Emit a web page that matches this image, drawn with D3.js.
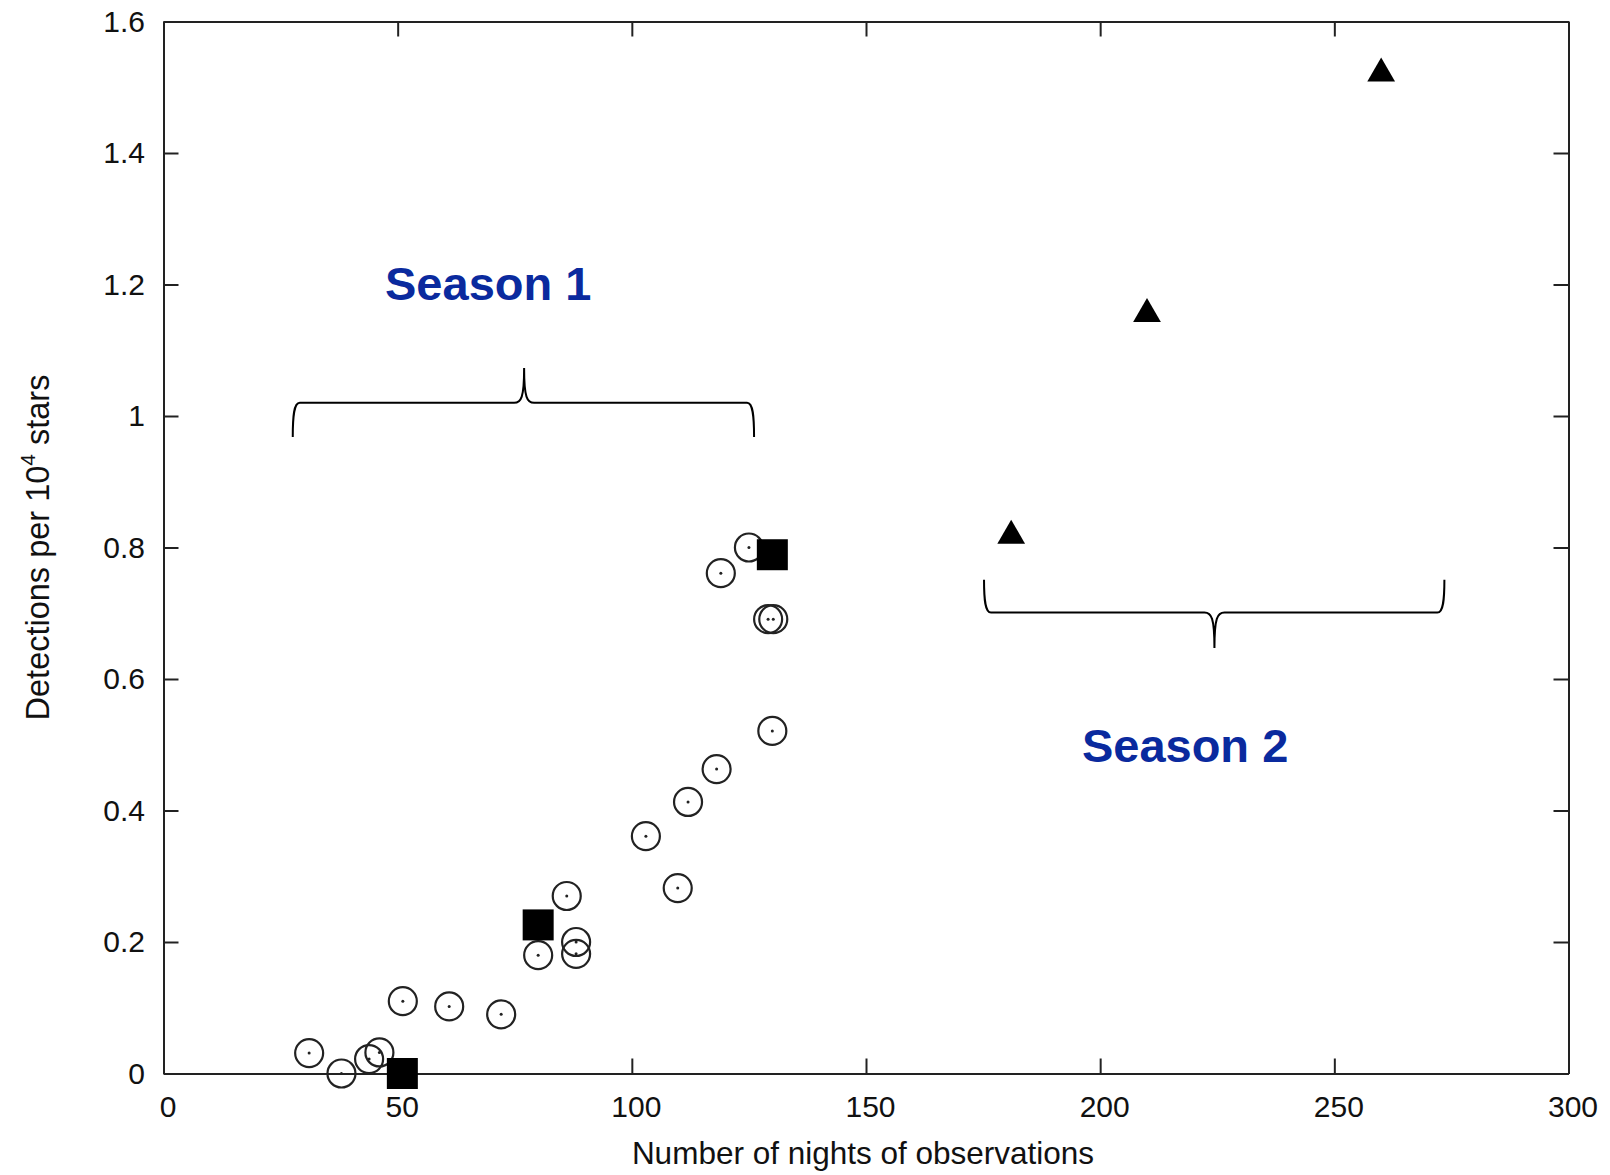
<!DOCTYPE html>
<html>
<head>
<meta charset="utf-8">
<script src="https://cdn.jsdelivr.net/npm/d3@7"></script>
<style>
  html, body { margin: 0; padding: 0; background: #fff; }
  svg { display: block; }
  text { font-family: "Liberation Sans", Arial, Helvetica, sans-serif; }
</style>
</head>
<body>
<svg id="chart" width="1610" height="1175"></svg>
<script>
// ---- data ----
const circleX = [31.1, 38.0, 43.9, 46.1, 51.1, 61.0, 72.1, 80.0, 86.1, 88.1, 88.1, 103.0, 109.8, 112.0, 118.1, 119.0, 125.0, 129.1, 130.2, 130.0];
const circleY = [0.031, 0.0, 0.022, 0.032, 0.110, 0.102, 0.090, 0.180, 0.270, 0.200, 0.182, 0.361, 0.282, 0.413, 0.463, 0.761, 0.800, 0.691, 0.691, 0.521];
const squareX = [51.0, 80.0, 130.0];
const squareY = [0.0, 0.226, 0.789];
const triangleX = [181.0, 210.0, 260.0];
const triangleY = [0.818, 1.155, 1.521];

const xTicks = [0, 50, 100, 150, 200, 250, 300];
const yTicks = [0, 0.2, 0.4, 0.6, 0.8, 1.0, 1.2, 1.4, 1.6];
const yTickLabels = ["0", "0.2", "0.4", "0.6", "0.8", "1", "1.2", "1.4", "1.6"];

const xTitle = "Number of nights of observations";
const seasonLabels = ["Season 1", "Season 2"];
const seasonLabelX = [47.3, 196.1];
const seasonLabelY = [1.176, 0.474];
// braces: [x start, x end, x cusp, y of bar, y of leg ends, y of cusp]
const brace1 = [27.6, 126.1, 77.0, 1.020, 0.968, 1.073];
const brace2 = [175.2, 273.5, 224.4, 0.701, 0.751, 0.647];

// ---- layout ----
const svg = d3.select("#chart");
const x = d3.scaleLinear().domain([0, 300]).range([163.5, 1568.5]);
const y = d3.scaleLinear().domain([0, 1.6]).range([1073.5, 21.5]);
const axisColor = "#222";
const tickFont = 30;

function styleAxis(g) {
  g.selectAll("path.domain").attr("stroke", axisColor).attr("stroke-width", 2);
  g.selectAll(".tick line").attr("stroke", axisColor).attr("stroke-width", 2);
  g.selectAll("text").attr("fill", "#111").attr("font-size", tickFont)
    .attr("font-family", '"Liberation Sans", Arial, sans-serif');
}

// bottom
svg.append("g").attr("transform", `translate(0,${y(0)})`)
  .call(d3.axisBottom(x).tickValues(xTicks).tickSize(-15).tickSizeOuter(0).tickPadding(22).tickFormat(d3.format("d")))
  .call(styleAxis)
  .call(g => g.selectAll("text").attr("dx", 4));
// top
svg.append("g").attr("transform", `translate(0,${y(1.6)})`)
  .call(d3.axisTop(x).tickValues(xTicks).tickSize(-15).tickSizeOuter(0).tickFormat(""))
  .call(styleAxis);
// left
svg.append("g").attr("transform", `translate(${x(0)},0)`)
  .call(d3.axisLeft(y).tickValues(yTicks).tickSize(-15).tickSizeOuter(0).tickPadding(18.5)
    .tickFormat((d, i) => yTickLabels[i]))
  .call(styleAxis);
// right
svg.append("g").attr("transform", `translate(${x(300)},0)`)
  .call(d3.axisRight(y).tickValues(yTicks).tickSize(-15).tickSizeOuter(0).tickFormat(""))
  .call(styleAxis);

// axis titles
svg.append("text")
  .attr("x", 863).attr("y", 1164)
  .attr("text-anchor", "middle")
  .attr("font-size", 31.5).attr("fill", "#111")
  .text(xTitle);

const yt = svg.append("text")
  .attr("transform", `translate(49,${(y(0) + y(1.6)) / 2}) rotate(-90)`)
  .attr("text-anchor", "middle")
  .attr("font-size", 32.5).attr("fill", "#111");
yt.append("tspan").text("Detections per 10");
yt.append("tspan").attr("font-size", 21).attr("dy", -14).text("4");
yt.append("tspan").attr("dy", 14).text(" stars");

// braces
function bracePath(b, up) {
  const [a0, a1, ac, ab, ae, at] = b;
  const X0 = x(a0), X1 = x(a1), XC = x(ac), YB = y(ab), YE = y(ae), YT = y(at);
  const s = up ? -1 : 1; // direction from bar toward cusp
  const cy = YE + (YB - YE) * 0.6;
  const r = 7;
  const p = d3.path();
  p.moveTo(X0, YE);
  p.bezierCurveTo(X0, cy, X0 + 1, YB, X0 + r, YB);
  p.lineTo(XC - 10, YB);
  p.bezierCurveTo(XC - 3, YB, XC, YB + s * 5, XC, YT);
  p.moveTo(XC, YT);
  p.bezierCurveTo(XC, YB + s * 5, XC + 3, YB, XC + 10, YB);
  p.lineTo(X1 - r, YB);
  p.bezierCurveTo(X1 - 1, YB, X1, cy, X1, YE);
  return p.toString();
}
svg.append("path").attr("d", bracePath(brace1, true))
  .attr("fill", "none").attr("stroke", "#000").attr("stroke-width", 2);
svg.append("path").attr("d", bracePath(brace2, false))
  .attr("fill", "none").attr("stroke", "#000").attr("stroke-width", 2);

// season labels
svg.selectAll("text.season").data(seasonLabels).enter().append("text")
  .attr("class", "season")
  .attr("x", (d, i) => x(seasonLabelX[i]))
  .attr("y", (d, i) => y(seasonLabelY[i]))
  .attr("font-size", 47).attr("font-weight", "bold")
  .attr("fill", "#0a2a9e")
  .text(d => d);

// circles
const circ = svg.append("g");
circleX.forEach((cx, i) => {
  circ.append("circle").attr("cx", x(cx)).attr("cy", y(circleY[i])).attr("r", 14)
    .attr("fill", "none").attr("stroke", "#222").attr("stroke-width", 2.2);
  circ.append("circle").attr("cx", x(cx)).attr("cy", y(circleY[i])).attr("r", 1.5)
    .attr("fill", "#222");
});

// squares
const sq = d3.symbol().type(d3.symbolSquare).size(31 * 31);
svg.append("g").selectAll("path").data(squareX).enter().append("path")
  .attr("d", sq)
  .attr("transform", (d, i) => `translate(${x(d)},${y(squareY[i])})`)
  .attr("fill", "#000");

// triangles
const tri = d3.symbol().type(d3.symbolTriangle).size(333);
svg.append("g").selectAll("path").data(triangleX).enter().append("path")
  .attr("d", tri)
  .attr("transform", (d, i) => `translate(${x(d)},${y(triangleY[i])})`)
  .attr("fill", "#000");
</script>
</body>
</html>
